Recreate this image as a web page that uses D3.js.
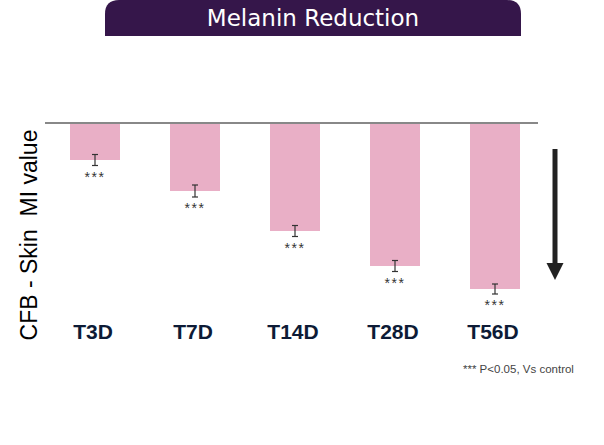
<!DOCTYPE html>
<html>
<head>
<meta charset="utf-8">
<script src="https://cdn.jsdelivr.net/npm/d3@7"></script>
<style>
  body { margin: 0; background: #fff; }
  svg { display: block; }
</style>
</head>
<body>
<svg id="chart"></svg>
<script>
const width = 604, height = 445;

// data (change from baseline, arbitrary MI units)
const categories = ["T3D", "T7D", "T14D", "T28D", "T56D"];
const values = [-3.7, -6.8, -10.8, -14.3, -16.6];
const errors = [0.55, 0.6, 0.55, 0.55, 0.5];
const signif = ["***", "***", "***", "***", "***"];

const svg = d3.select("#chart")
  .attr("width", width)
  .attr("height", height);

// title banner
const bx0 = 105, bx1 = 521, bh = 36, r = 14;
svg.append("path")
  .attr("d", `M${bx0},${bh} L${bx0},${r} Q${bx0},0 ${bx0 + r},0 L${bx1 - r},0 Q${bx1},0 ${bx1},${r} L${bx1},${bh} Z`)
  .attr("fill", "#35164a");
svg.append("text")
  .attr("x", (bx0 + bx1) / 2)
  .attr("y", 26)
  .attr("text-anchor", "middle")
  .attr("font-family", "DejaVu Sans, sans-serif")
  .attr("font-size", 23)
  .attr("fill", "#fff")
  .text("Melanin Reduction");

const x = d3.scaleBand()
  .domain(categories)
  .range([45, 545])
  .paddingInner(0.5)
  .paddingOuter(0.25);

const y = d3.scaleLinear()
  .domain([0, -20])
  .range([123, 323]);

const data = categories.map((c, i) => ({ cat: c, v: values[i], e: errors[i], s: signif[i] }));

// bars
svg.append("g")
  .selectAll("rect")
  .data(data)
  .join("rect")
  .attr("x", d => x(d.cat))
  .attr("y", y(0))
  .attr("width", x.bandwidth())
  .attr("height", d => y(d.v) - y(0))
  .attr("fill", "#e9afc6");

// baseline
svg.append("line")
  .attr("x1", 45).attr("x2", 538)
  .attr("y1", y(0)).attr("y2", y(0))
  .attr("stroke", "#888")
  .attr("stroke-width", 2);

// error bars
const eb = svg.append("g")
  .attr("stroke", "#333")
  .attr("stroke-width", 1.2);
data.forEach(d => {
  const cx = x(d.cat) + x.bandwidth() / 2;
  const top = y(d.v + d.e), bot = y(d.v - d.e);
  eb.append("line").attr("x1", cx).attr("x2", cx).attr("y1", top).attr("y2", bot);
  eb.append("line").attr("x1", cx - 3).attr("x2", cx + 3).attr("y1", top).attr("y2", top);
  eb.append("line").attr("x1", cx - 3).attr("x2", cx + 3).attr("y1", bot).attr("y2", bot);
});

// significance stars
svg.append("g")
  .selectAll("text")
  .data(data)
  .join("text")
  .attr("x", d => x(d.cat) + x.bandwidth() / 2)
  .attr("y", d => y(d.v - d.e) + 16)
  .attr("text-anchor", "middle")
  .attr("font-family", "Liberation Sans, Arial, sans-serif")
  .attr("font-size", 14)
  .attr("letter-spacing", 1.5)
  .attr("fill", "#333")
  .text(d => d.s);

// category labels
svg.append("g")
  .selectAll("text")
  .data(categories)
  .join("text")
  .attr("x", d => x(d) + x.bandwidth() / 2 - 2)
  .attr("y", 339)
  .attr("text-anchor", "middle")
  .attr("font-family", "Liberation Sans, Arial, sans-serif")
  .attr("font-weight", "bold")
  .attr("font-size", 21)
  .attr("fill", "#0d1b36")
  .text(d => d);

// y axis label
svg.append("text")
  .attr("transform", "translate(37,235) rotate(-90)")
  .attr("text-anchor", "middle")
  .attr("font-family", "Liberation Sans, Arial, sans-serif")
  .attr("font-size", 23)
  .attr("fill", "#000")
  .attr("xml:space", "preserve")
  .style("white-space", "pre")
  .text("CFB - Skin  MI value");

// downward arrow
svg.append("line")
  .attr("x1", 555).attr("x2", 555)
  .attr("y1", 149).attr("y2", 265)
  .attr("stroke", "#222")
  .attr("stroke-width", 5);
svg.append("path")
  .attr("d", "M546.5,263 L563.5,263 L555,280 Z")
  .attr("fill", "#222");

// footnote
svg.append("text")
  .attr("x", 463)
  .attr("y", 373)
  .attr("font-family", "Liberation Sans, Arial, sans-serif")
  .attr("font-size", 11.5)
  .attr("fill", "#444")
  .text("*** P<0.05, Vs control");
</script>
</body>
</html>
